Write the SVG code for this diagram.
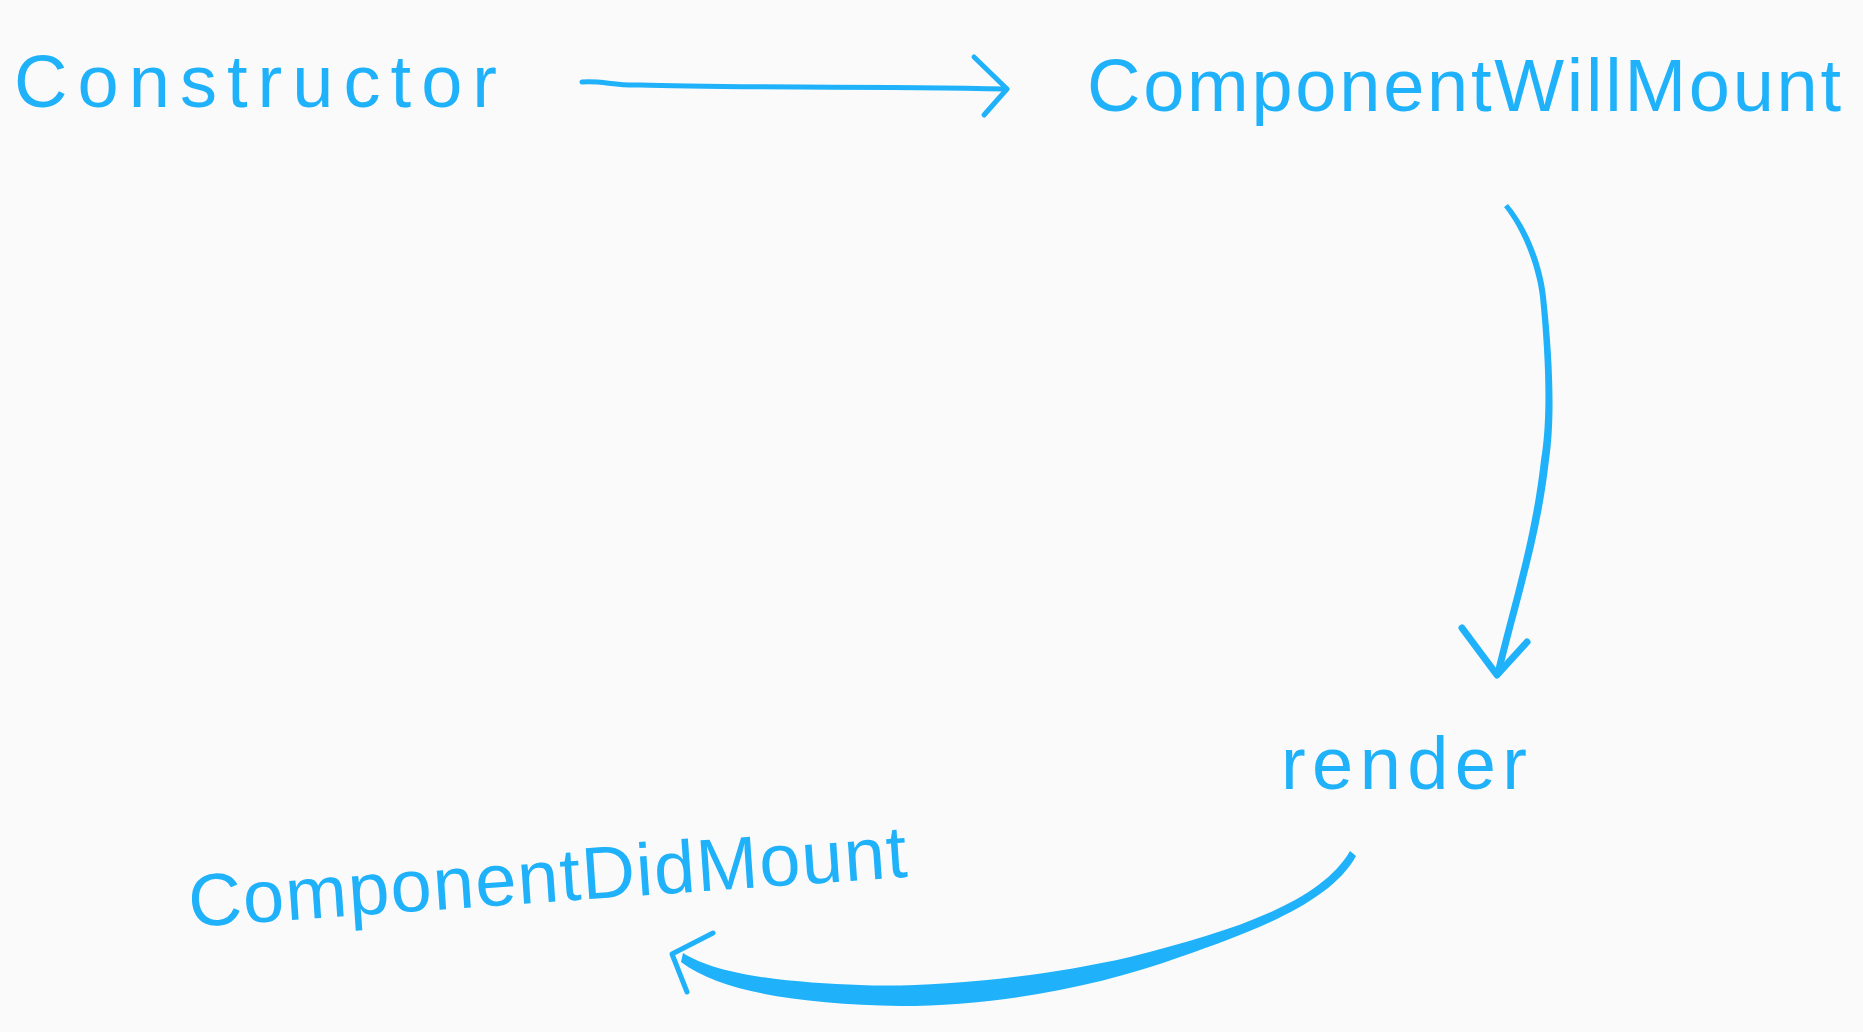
<svg xmlns="http://www.w3.org/2000/svg" width="1863" height="1032" viewBox="0 0 1863 1032">
<style>
.bg{fill:#FAFAFA}
.lbl{font-family:"Liberation Sans",Arial,sans-serif;font-size:74px;fill:#1FB2FA}
.ln{fill:none;stroke:#1FB2FA;stroke-linecap:round;stroke-linejoin:round}
.fl{fill:#1FB2FA}
</style>
<rect class="bg" x="0" y="0" width="1863" height="1032"/>
<g id="node-constructor">
<text class="lbl" x="14" y="107" textLength="483" lengthAdjust="spacing">Constructor</text>
</g>
<g id="node-componentWillMount">
<text class="lbl" x="1087" y="111" textLength="754" lengthAdjust="spacing">ComponentWillMount</text>
</g>
<g id="node-render">
<text class="lbl" x="1281" y="789" textLength="246" lengthAdjust="spacing">render</text>
</g>
<g id="node-componentDidMount">
<text class="lbl" x="190" y="927" textLength="720" lengthAdjust="spacing" transform="rotate(-4 190 927)">ComponentDidMount</text>
</g>
<g id="connectors">
<path class="ln" stroke-width="5" d="M582,82 C600,80 615,86 640,85 C720,88 850,86 1007,89"/>
<path class="ln" stroke-width="5" d="M974,57 L1007,89 L984,115"/>
<path class="fl" d="M1504,207 C1524,232 1537,270 1540,297 C1546,360 1548,420 1541,460 C1532,540 1512,600 1494,675 L1501,676 C1519,600 1540,540 1549,460 C1555,420 1553,360 1546,297 C1543,268 1530,230 1508,204 Z"/>
<path class="ln" stroke-width="7" d="M1462,628 L1497,675 L1527,642"/>
<path class="fl" d="M1350,851 C1320,903 1230,932 1130,957 C1030,980 920,988 860,985 C800,983 720,977 683,953 L681,962 C720,992 800,1004 900,1006 C1000,1006 1100,986 1180,957 C1262,929 1332,900 1356,856 Z"/>
<path class="ln" stroke-width="5" d="M713,933 L672,954 L687,992"/>
</g>
</svg>
